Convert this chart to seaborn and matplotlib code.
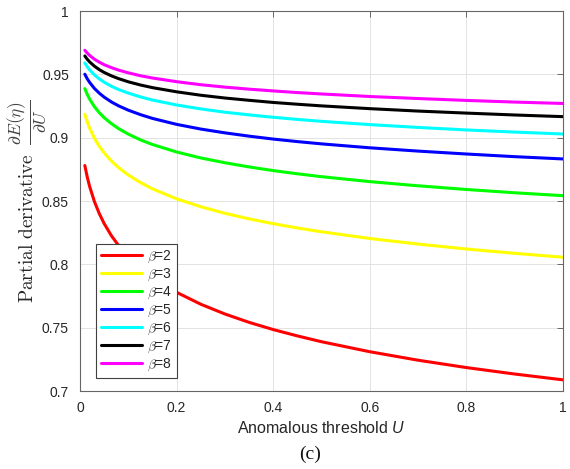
import matplotlib
matplotlib.use("Agg")
import matplotlib.pyplot as plt
import numpy as np
import pandas as pd
import seaborn as sns

# Anomalous threshold U (x values shared by every curve)
U = [0.01, 0.015, 0.02, 0.03, 0.04, 0.05, 0.065, 0.08, 0.1, 0.125, 0.15, 0.2,
     0.25, 0.3, 0.35, 0.4, 0.45, 0.5, 0.6, 0.7, 0.8, 0.9, 1.0]

# Partial derivative dE(eta)/dU for each shape parameter beta
beta_2 = [0.8780, 0.8689, 0.8614, 0.8494, 0.8400, 0.8322, 0.8226, 0.8148, 0.8061, 0.7972,
          0.7898, 0.7779, 0.7685, 0.7608, 0.7542, 0.7485, 0.7435, 0.7389, 0.7310, 0.7243,
          0.7185, 0.7134, 0.7088]
beta_3 = [0.9185, 0.9125, 0.9075, 0.8994, 0.8931, 0.8880, 0.8816, 0.8763, 0.8705, 0.8646,
          0.8596, 0.8517, 0.8455, 0.8403, 0.8359, 0.8321, 0.8287, 0.8257, 0.8204, 0.8160,
          0.8121, 0.8087, 0.8056]
beta_4 = [0.9387, 0.9342, 0.9304, 0.9244, 0.9197, 0.9158, 0.9111, 0.9071, 0.9028, 0.8983,
          0.8946, 0.8887, 0.8840, 0.8802, 0.8769, 0.8740, 0.8715, 0.8692, 0.8653, 0.8620,
          0.8591, 0.8565, 0.8542]
beta_5 = [0.9501, 0.9465, 0.9436, 0.9388, 0.9351, 0.9320, 0.9282, 0.9251, 0.9217, 0.9182,
          0.9152, 0.9105, 0.9068, 0.9038, 0.9012, 0.8989, 0.8969, 0.8951, 0.8920, 0.8894,
          0.8871, 0.8850, 0.8832]
beta_6 = [0.9590, 0.9560, 0.9535, 0.9495, 0.9464, 0.9438, 0.9406, 0.9380, 0.9352, 0.9322,
          0.9297, 0.9258, 0.9227, 0.9201, 0.9180, 0.9161, 0.9144, 0.9129, 0.9103, 0.9081,
          0.9061, 0.9044, 0.9029]
beta_7 = [0.9645, 0.9619, 0.9598, 0.9564, 0.9537, 0.9515, 0.9488, 0.9466, 0.9441, 0.9416,
          0.9395, 0.9362, 0.9335, 0.9313, 0.9295, 0.9278, 0.9264, 0.9251, 0.9229, 0.9210,
          0.9194, 0.9179, 0.9166]
beta_8 = [0.9690, 0.9668, 0.9649, 0.9619, 0.9596, 0.9576, 0.9553, 0.9533, 0.9512, 0.9489,
          0.9471, 0.9442, 0.9418, 0.9399, 0.9383, 0.9369, 0.9356, 0.9345, 0.9325, 0.9309,
          0.9294, 0.9281, 0.9270]

betas = [2, 3, 4, 5, 6, 7, 8]
series = [beta_2, beta_3, beta_4, beta_5, beta_6, beta_7, beta_8]
colors = ["#ff0000", "#ffff00", "#00ff00", "#0000ff", "#00ffff", "#000000", "#ff00ff"]
labels = [r"$\beta$=%d" % b for b in betas]

x_ticks = [0, 0.2, 0.4, 0.6, 0.8, 1]
x_tick_labels = ["0", "0.2", "0.4", "0.6", "0.8", "1"]
y_ticks = [0.7, 0.75, 0.8, 0.85, 0.9, 0.95, 1]
y_tick_labels = ["0.7", "0.75", "0.8", "0.85", "0.9", "0.95", "1"]

df = pd.concat(
    [pd.DataFrame({"U": U, "dE": vals, "beta": lab}) for vals, lab in zip(series, labels)],
    ignore_index=True,
)

sns.set_style("white")
plt.rcParams["font.family"] = ["Liberation Sans", "DejaVu Sans"]
plt.rcParams["mathtext.fontset"] = "custom"
plt.rcParams["mathtext.rm"] = "Liberation Sans"
plt.rcParams["mathtext.it"] = "Liberation Sans:italic"
plt.rcParams["mathtext.bf"] = "Liberation Sans:bold"

axis_grey = "#262626"

fig = plt.figure(figsize=(5.70, 4.69), dpi=100)
ax = fig.add_axes([80 / 570, 1 - 391 / 469, 483 / 570, 380 / 469])

sns.lineplot(data=df, x="U", y="dE", hue="beta", hue_order=labels, palette=colors,
             estimator=None, sort=False, linewidth=2.2, ax=ax, legend="full")

ax.set_xlim(0, 1)
ax.set_ylim(0.7, 1)
ax.set_xticks(x_ticks)
ax.set_xticklabels(x_tick_labels)
ax.set_yticks(y_ticks)
ax.set_yticklabels(y_tick_labels)

ax.grid(True, color="#dedede", linewidth=0.6)
ax.set_axisbelow(True)
for sp in ax.spines.values():
    sp.set_visible(True)
    sp.set_color("#666666")
    sp.set_linewidth(0.8)
ax.tick_params(axis="both", direction="in", length=4, width=0.6, color="#555555",
               labelsize=10, labelcolor=axis_grey, top=True, right=True)
ax.tick_params(axis="x", pad=7)
ax.tick_params(axis="y", pad=8)

ax.set_xlabel(r"Anomalous threshold $U$", fontsize=11.5, color=axis_grey,
              math_fontfamily="custom")
ax.xaxis.set_label_coords(0.5, -0.075)
ax.set_ylabel("")

# y-axis label: words plus the derivative fraction, both rotated
fig.text(28 / 570, 1 - 228 / 469, r"$\mathrm{Partial\ derivative}$", rotation=90,
         ha="center", va="center", fontsize=14, color=axis_grey, math_fontfamily="cm")
fig.text(28 / 570, 1 - 122 / 469, r"$\frac{\partial E(\eta)}{\partial U}$", rotation=90,
         ha="center", va="center", fontsize=18, color="#444444", math_fontfamily="cm")

handles, labs = ax.get_legend_handles_labels()
leg = ax.legend(handles, labs, loc="upper left", bbox_to_anchor=(0.033, 0.387),
                borderaxespad=0, fontsize=10, handlelength=3.0, handletextpad=0.3,
                labelspacing=0.12, borderpad=0.35, frameon=True, fancybox=False,
                framealpha=1, edgecolor="#404040")
leg.get_frame().set_linewidth(0.8)
for t in leg.get_texts():
    t.set_color(axis_grey)
    t.set_math_fontfamily("cm")

fig.text(310 / 570, 1 - 454 / 469, "(c)", ha="center", va="center",
         fontsize=14, family="Liberation Serif", color="#111111")

fig.savefig("out.png", dpi=100)
